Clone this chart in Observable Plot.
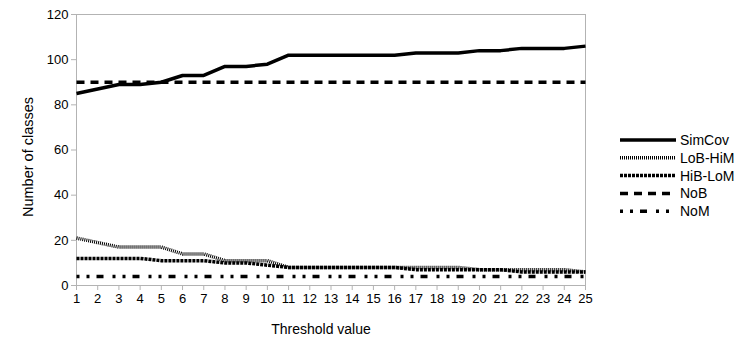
<!DOCTYPE html>
<html><head><meta charset="utf-8">
<script src="https://cdn.jsdelivr.net/npm/d3@7"></script>
<script src="https://cdn.jsdelivr.net/npm/@observablehq/plot@0.6"></script>
<style>
body{margin:0;background:#fff;font-family:"Liberation Sans",Arial,sans-serif;}
#wrap{position:relative;width:747px;height:355px;}
#legend{position:absolute;left:0;top:0;}
</style></head><body>
<div id="wrap"></div>
<script>
const thresholds = d3.range(1, 26);
const seriesNames = ["SimCov", "LoB-HiM", "HiB-LoM", "NoB", "NoM"];
const simCov = [85,87,89,89,90,93,93,97,97,98,102,102,102,102,102,102,103,103,103,104,104,105,105,105,106];
const loBHiM = [21,19,17,17,17,14,14,11,11,11,8,8,8,8,8,8,8,8,8,7,7,7,7,7,6];
const hiBLoM = [12,12,12,12,11,11,11,10,10,9,8,8,8,8,8,8,7,7,7,7,7,6,6,6,6];
const noB = Array(25).fill(90);
const noM = Array(25).fill(4);
const yTicks = [0,20,40,60,80,100,120];
const xTitle = "Threshold value";
const yTitle = "Number of classes";
const dashes = {"SimCov":null,"LoB-HiM":"1,1","HiB-LoM":"3,1","NoB":"8,6","NoM":"3,7,3,7,7,9"};

const values = [simCov, loBHiM, hiBLoM, noB, noM];
const data = [];
seriesNames.forEach((s, i) => thresholds.forEach((t, j) => data.push({series: s, x: t, y: values[i][j]})));

const grey = "#b3b3b3";
const font = "'Liberation Sans', Arial, sans-serif";
const chart = Plot.plot({
  width: 747, height: 355,
  marginLeft: 76, marginRight: 162, marginTop: 14, marginBottom: 70,
  style: {fontFamily: font, fontSize: "13px", color: "#000", background: "#fff"},
  x: {domain: [1, 25]},
  y: {domain: [0, 120]},
  marks: [
    Plot.frame({stroke: grey}),
    Plot.axisY({ticks: yTicks, tickSize: 5, stroke: grey, fill: "#000", tickPadding: 3, label: null}),
    Plot.axisX({ticks: thresholds, tickSize: 5, stroke: grey, fill: "#000", tickPadding: 3, tickFormat: d3.format("d"), label: null}),
    ...seriesNames.map(s => Plot.line(data.filter(d => d.series === s), {x: "x", y: "y", stroke: "#000", strokeWidth: 3.5, strokeDasharray: dashes[s], strokeLinejoin: "round", strokeLinecap: "butt"}))
  ]
});
const wrap = document.getElementById("wrap");
wrap.appendChild(chart);

const ov = d3.select(wrap).append("svg").attr("id","legend").attr("width",747).attr("height",355);
// axis titles
ov.append("text").attr("x", 321).attr("y", 329).attr("dy","0.35em").attr("text-anchor","middle")
  .attr("font-family", font).attr("font-size", 14).text(xTitle);
ov.append("text").attr("transform","translate(28,157) rotate(-90)").attr("dy","0.35em").attr("text-anchor","middle")
  .attr("font-family", font).attr("font-size", 14.5).text(yTitle);
// legend
const lx0 = 620, lx1 = 676, ly0 = 140, ldy = 17.8;
seriesNames.forEach((s, i) => {
  const g = ov.append("g").attr("transform", `translate(0,${ly0 + i*ldy})`);
  g.append("line").attr("x1", lx0).attr("x2", lx1).attr("y1", 0).attr("y2", 0)
    .attr("stroke", "#000").attr("stroke-width", 3.5).attr("stroke-dasharray", dashes[s]);
  g.append("text").attr("x", lx1 + 4).attr("y", 0).attr("dy", "0.35em")
    .attr("font-family", font).attr("font-size", 14).text(s);
});
</script>
</body></html>
